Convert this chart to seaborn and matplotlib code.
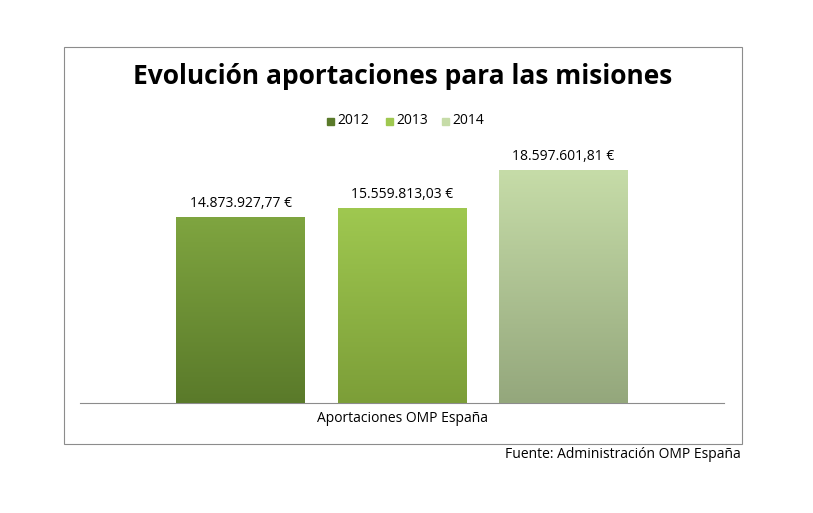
import numpy as np
import pandas as pd
import seaborn as sns
import matplotlib.pyplot as plt
from matplotlib.colors import LinearSegmentedColormap
from matplotlib.patches import Rectangle

categories = ["Aportaciones OMP España"]
years = ["2012", "2013", "2014"]
values = [14873927.77, 15559813.03, 18597601.81]
labels = ["14.873.927,77 €", "15.559.813,03 €", "18.597.601,81 €"]
top_colors = ["#7fa540", "#9fc850", "#c6dca8"]
bot_colors = ["#5a7a2a", "#7c9e38", "#94a77c"]

W, H = 813, 513
fig = plt.figure(figsize=(W/100, H/100), dpi=100)
plt.rcParams['font.family'] = ['Open Sans', 'DejaVu Sans']
fig.patches.append(Rectangle((64/W, 1-444/H), (742-64)/W, (444-47)/H, transform=fig.transFigure,
                             fill=False, edgecolor="#8c8c8c", lw=0.8))
ax = fig.add_axes([80/W, 1-403/H, (724-80)/W, (403-140)/H])
df = pd.DataFrame({"cat": categories*3, "year": years, "val": values})
sns.barplot(data=df, x="cat", y="val", hue="year", palette=top_colors, gap=0.2, ax=ax, legend=False)
ax.set_xlim(-0.533, 0.533)
ax.set_ylim(0, 21.0e6)
for i, p in enumerate(ax.patches[:3]):
    x0, y0 = p.get_x(), p.get_y()
    w, h = p.get_width(), p.get_height()
    cmap = LinearSegmentedColormap.from_list("g", [bot_colors[i], top_colors[i]])
    grad = np.linspace(0, 1, 256).reshape(-1, 1)
    im = ax.imshow(grad, cmap=cmap, aspect="auto", origin="lower",
                   extent=[x0, x0+w, y0, y0+h], zorder=3)
    im.set_clip_path(p)
    ax.text(x0+w/2, h + 0.45e6, labels[i], ha="center", va="bottom", fontsize=10, color="#000")
ax.set_xlim(-0.533, 0.533)
ax.set_ylim(0, 21.0e6)
for s in ["top", "left", "right"]:
    ax.spines[s].set_visible(False)
ax.spines["bottom"].set_color("#8c8c8c")
ax.set_yticks([])
ax.tick_params(axis="x", length=0, labelsize=10, pad=6)
ax.set_xlabel(""); ax.set_ylabel("")
ax.set_facecolor("none")

fig.text(403/W, 1-77/H, "Evolución aportaciones para las misiones", ha="center", va="center",
         fontsize=19, fontweight="bold")
lx = [327, 386, 442]
for i, yr in enumerate(years):
    fig.patches.append(Rectangle((lx[i]/W, 1-125/H), 7/W, 7/H, transform=fig.transFigure,
                                 color=top_colors[i] if i else bot_colors[0]))
    fig.text((lx[i]+10)/W, 1-121/H, yr, ha="left", va="center", fontsize=10)
fig.text(741/W, 1-455/H, "Fuente: Administración OMP España", ha="right", va="center", fontsize=10)
fig.savefig("out.png", dpi=100)
